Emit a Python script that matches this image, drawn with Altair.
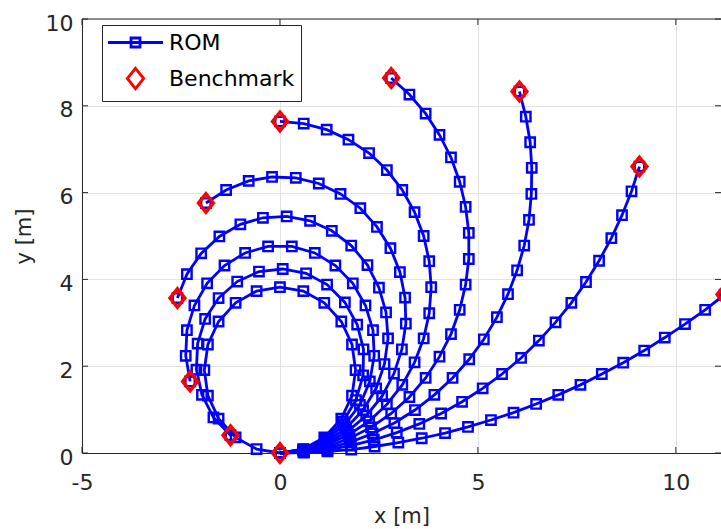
import altair as alt
import pandas as pd

# ---- axis limits and ticks ----
X_MIN, X_MAX = -5, 11.14
Y_MIN, Y_MAX = 0, 10
x_ticks = [-5, 0, 5, 10]
y_ticks = [0, 2, 4, 6, 8, 10]

# ---- ROM curves (21 nodes each) ----
c1_x = [0, 0.60, 1.20, 1.80, 2.39, 2.99, 3.58, 4.17, 4.75, 5.33, 5.90, 6.47, 7.03, 7.59, 8.13, 8.67, 9.20, 9.72, 10.23, 10.74, 11.23]
c1_y = [0, 0.01, 0.04, 0.08, 0.15, 0.24, 0.34, 0.46, 0.60, 0.76, 0.93, 1.13, 1.34, 1.57, 1.82, 2.08, 2.36, 2.66, 2.97, 3.30, 3.65]
c2_x = [0, 0.60, 1.20, 1.79, 2.37, 2.95, 3.52, 4.07, 4.60, 5.12, 5.61, 6.09, 6.54, 6.96, 7.36, 7.73, 8.06, 8.37, 8.64, 8.88, 9.08]
c2_y = [0, 0.02, 0.08, 0.17, 0.30, 0.47, 0.67, 0.91, 1.18, 1.49, 1.82, 2.19, 2.59, 3.01, 3.46, 3.94, 4.43, 4.95, 5.48, 6.03, 6.60]
c3_x = [0, 0.60, 1.19, 1.78, 2.34, 2.89, 3.41, 3.90, 4.36, 4.78, 5.15, 5.48, 5.76, 5.99, 6.17, 6.29, 6.35, 6.36, 6.32, 6.21, 6.05]
c3_y = [0, 0.03, 0.11, 0.25, 0.45, 0.69, 0.99, 1.34, 1.73, 2.16, 2.62, 3.13, 3.66, 4.21, 4.78, 5.37, 5.97, 6.57, 7.16, 7.75, 8.33]
c4_x = [0, 0.60, 1.19, 1.76, 2.30, 2.81, 3.27, 3.68, 4.03, 4.32, 4.54, 4.69, 4.77, 4.77, 4.69, 4.54, 4.32, 4.03, 3.68, 3.27, 2.81]
c4_y = [0, 0.04, 0.15, 0.34, 0.59, 0.91, 1.29, 1.73, 2.22, 2.74, 3.30, 3.88, 4.47, 5.07, 5.67, 6.25, 6.81, 7.33, 7.82, 8.26, 8.64]
c5_x = [0, 0.60, 1.18, 1.73, 2.25, 2.70, 3.09, 3.40, 3.63, 3.77, 3.82, 3.77, 3.63, 3.40, 3.09, 2.70, 2.25, 1.73, 1.18, 0.60, 0]
c5_y = [0, 0.05, 0.19, 0.42, 0.73, 1.12, 1.57, 2.09, 2.64, 3.22, 3.82, 4.42, 5.00, 5.55, 6.06, 6.52, 6.91, 7.22, 7.45, 7.59, 7.64]
c6_x = [0, 0.60, 1.17, 1.71, 2.18, 2.58, 2.88, 3.08, 3.18, 3.16, 3.03, 2.79, 2.45, 2.03, 1.53, 0.98, 0.40, -0.20, -0.79, -1.36, -1.87]
c6_y = [0, 0.06, 0.22, 0.50, 0.86, 1.31, 1.83, 2.39, 2.98, 3.58, 4.17, 4.72, 5.21, 5.64, 5.97, 6.21, 6.34, 6.36, 6.27, 6.06, 5.76]
c7_x = [0, 0.60, 1.16, 1.67, 2.10, 2.43, 2.64, 2.73, 2.68, 2.50, 2.21, 1.80, 1.31, 0.76, 0.17, -0.43, -1.00, -1.53, -1.99, -2.35, -2.59]
c7_y = [0, 0.07, 0.26, 0.57, 0.99, 1.49, 2.05, 2.64, 3.24, 3.81, 4.33, 4.78, 5.12, 5.35, 5.45, 5.42, 5.27, 4.99, 4.60, 4.12, 3.57]
c8_x = [0, 0.59, 1.15, 1.63, 2.02, 2.27, 2.38, 2.35, 2.16, 1.84, 1.40, 0.88, 0.30, -0.30, -0.88, -1.40, -1.84, -2.16, -2.35, -2.38, -2.27]
c8_y = [0, 0.08, 0.30, 0.65, 1.11, 1.65, 2.24, 2.83, 3.40, 3.91, 4.32, 4.61, 4.76, 4.76, 4.61, 4.32, 3.91, 3.40, 2.83, 2.24, 1.65]
c9_x = [0, 0.59, 1.14, 1.59, 1.92, 2.10, 2.11, 1.95, 1.64, 1.19, 0.66, 0.07, -0.53, -1.08, -1.55, -1.89, -2.08, -2.11, -1.97, -1.68, -1.25]
c9_y = [0, 0.08, 0.33, 0.72, 1.22, 1.79, 2.39, 2.96, 3.47, 3.88, 4.14, 4.24, 4.18, 3.95, 3.57, 3.09, 2.52, 1.92, 1.34, 0.82, 0.41]
c10_x = [0, 0.59, 1.12, 1.55, 1.82, 1.91, 1.82, 1.55, 1.12, 0.59, 0, -0.59, -1.12, -1.55, -1.82, -1.91, -1.82, -1.55, -1.12, -0.59, 0]
c10_y = [0, 0.09, 0.36, 0.79, 1.32, 1.91, 2.50, 3.03, 3.46, 3.73, 3.82, 3.73, 3.46, 3.03, 2.50, 1.91, 1.32, 0.79, 0.36, 0.09, 0]

# ---- Benchmark tip positions ----
bench_x = [11.23, 9.08, 6.05, 2.81, 0.0, -1.87, -2.59, -2.27, -1.25, 0.0]
bench_y = [3.65, 6.60, 8.33, 8.64, 7.64, 5.76, 3.57, 1.65, 0.41, 0.0]

series_names = ["ROM", "Benchmark"]

curves = [(c1_x, c1_y), (c2_x, c2_y), (c3_x, c3_y), (c4_x, c4_y), (c5_x, c5_y),
          (c6_x, c6_y), (c7_x, c7_y), (c8_x, c8_y), (c9_x, c9_y), (c10_x, c10_y)]
rows = []
for ci, (cx, cy) in enumerate(curves):
    for j, (xv, yv) in enumerate(zip(cx, cy)):
        rows.append({"curve": ci + 1, "idx": j, "x": xv, "y": yv})
rom = pd.DataFrame(rows)
bench = pd.DataFrame({"x": bench_x, "y": bench_y})
legend_df = pd.DataFrame({"series": series_names})

FONT = "DejaVu Sans"
AX = "#262626"
GRID = "#e3e3e3"
BLUE = "#0000ff"
RED = "#ff0000"
LABEL_EXPR = "'' + datum.value"

xs = alt.Scale(domain=[X_MIN, X_MAX], nice=False, zero=False)
ys = alt.Scale(domain=[Y_MIN, Y_MAX], nice=False, zero=False)

xaxis = alt.Axis(values=x_ticks, grid=True, gridColor=GRID, domainColor=AX, tickSize=0,
                 labelPadding=19, labelFontSize=22, labelColor=AX, labelFlush=False,
                 labelExpr=LABEL_EXPR,
                 title="x [m]", titleFontSize=21, titleFontWeight="normal", titleColor=AX,
                 titlePadding=12)
yaxis = alt.Axis(values=y_ticks, grid=True, gridColor=GRID, domainColor=AX, tickSize=0,
                 labelPadding=9, labelFontSize=22, labelColor=AX, labelOffset=4, labelFlush=False,
                 labelExpr=LABEL_EXPR,
                 title="y [m]", titleFontSize=21, titleFontWeight="normal", titleColor=AX,
                 titlePadding=11)

lines = alt.Chart(rom).mark_line(color=BLUE, strokeWidth=2.8).encode(
    x=alt.X("x:Q", scale=xs, axis=xaxis),
    y=alt.Y("y:Q", scale=ys, axis=yaxis),
    detail="curve:N",
    order="idx:Q",
)

squares = alt.Chart(rom).mark_point(shape="square", filled=False, color=BLUE,
                                    strokeWidth=2.4, size=88, opacity=1).encode(
    x="x:Q", y="y:Q")

DIAMOND = "M0,-1L0.8,0L0,1L-0.8,0Z"
diamonds = alt.Chart(bench).mark_point(shape=DIAMOND, filled=False, color=RED,
                                       strokeWidth=3.5, size=342, opacity=1).encode(
    x="x:Q", y="y:Q")

# frame: top border and inward ticks
TX = 6 / 39.6
TY = 6 / 43.4
seg = []
seg.append({"x": X_MIN, "x2": X_MAX, "y": Y_MAX, "y2": Y_MAX})
for t in x_ticks:
    seg.append({"x": t, "x2": t, "y": Y_MIN, "y2": Y_MIN + TY})
    seg.append({"x": t, "x2": t, "y": Y_MAX, "y2": Y_MAX - TY})
for t in y_ticks:
    seg.append({"x": X_MIN, "x2": X_MIN + TX, "y": t, "y2": t})
    seg.append({"x": X_MAX - TX, "x2": X_MAX, "y": t, "y2": t})
frame = alt.Chart(pd.DataFrame(seg)).mark_rule(color=AX, strokeWidth=1).encode(
    x="x:Q", x2="x2:Q", y="y:Q", y2="y2:Q")

ROM_SYM = "M-2.75,0H2.75M-0.45,-0.45H0.45V0.45H-0.45Z"
BEN_SYM = "M0,-1.02L0.82,0L0,1.02L-0.82,0Z"
LEG = alt.Legend(title=None, orient="none", legendX=20, legendY=6, padding=6,
                 symbolSize=400, symbolOffset=16, labelOffset=22, rowPadding=8,
                 labelFontSize=22, labelFont=FONT, labelColor="#000000",
                 strokeColor=AX, fillColor="white", symbolStrokeWidth=2.8,
                 symbolOpacity=1, symbolFillColor="transparent")
legend_layer = alt.Chart(legend_df).mark_point(filled=False, opacity=0, size=400).encode(
    color=alt.Color("series:N", scale=alt.Scale(domain=series_names, range=[BLUE, RED]), legend=LEG),
    shape=alt.Shape("series:N", scale=alt.Scale(domain=series_names, range=[ROM_SYM, BEN_SYM]), legend=LEG),
)

chart = alt.layer(lines, squares, diamonds, frame, legend_layer).properties(
    width=639, height=434,
    autosize=alt.AutoSizeParams(type="none"),
    padding={"left": 82, "top": 19, "right": 0, "bottom": 76},
    background="white",
).configure_view(stroke=None).configure_axis(
    labelFont=FONT, titleFont=FONT
)

chart.save("out.html", embed_options={"renderer": "svg", "actions": False})
